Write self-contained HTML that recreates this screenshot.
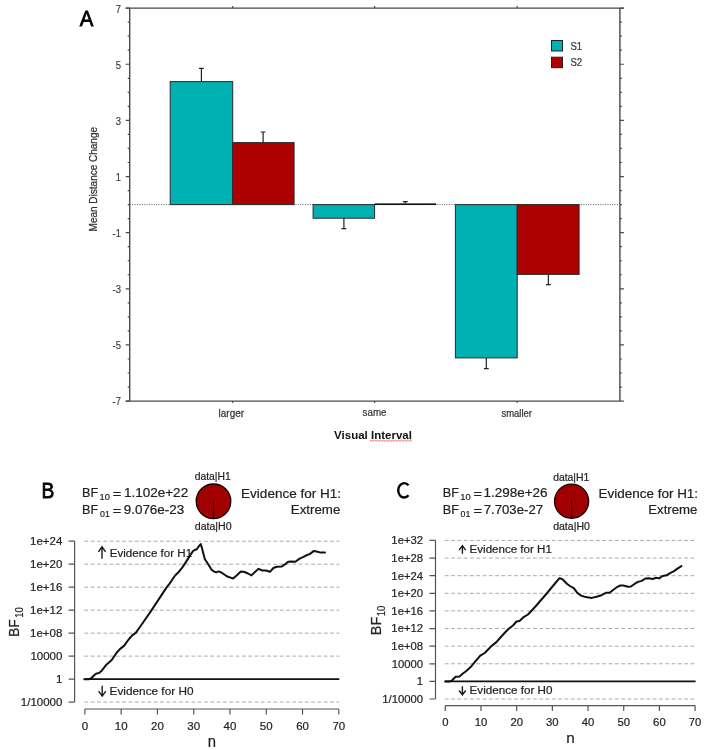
<!DOCTYPE html>
<html><head><meta charset="utf-8"><style>
html,body{margin:0;padding:0;background:#fff;}
svg{display:block;font-family:"Liberation Sans", sans-serif;will-change:transform;}
</style></head><body>
<svg width="708" height="750" viewBox="0 0 708 750">
<rect width="708" height="750" fill="#fff"/>
<text transform="translate(79.87,25.60) scale(0.888,1)" font-size="22.98" fill="#000" stroke="#000" stroke-width="0.8">A</text>
<g stroke="#4a4a4a" stroke-width="1.4" fill="none">
<path d="M125.69999999999999,8.1 H623.9 M129.7,8.1 V401.1 M619.9,8.1 V401.1 M125.69999999999999,401.1 H619.9"/>
<path stroke-width="1.2" d="M125.69999999999999,401.09 H129.7 M619.9,401.09 H623.9 M127.69999999999999,387.06 H129.7 M619.9,387.06 H621.9 M127.69999999999999,373.02 H129.7 M619.9,373.02 H621.9 M127.69999999999999,358.99 H129.7 M619.9,358.99 H621.9 M125.69999999999999,344.95 H129.7 M619.9,344.95 H623.9 M127.69999999999999,330.91 H129.7 M619.9,330.91 H621.9 M127.69999999999999,316.88 H129.7 M619.9,316.88 H621.9 M127.69999999999999,302.85 H129.7 M619.9,302.85 H621.9 M125.69999999999999,288.81 H129.7 M619.9,288.81 H623.9 M127.69999999999999,274.77 H129.7 M619.9,274.77 H621.9 M127.69999999999999,260.74 H129.7 M619.9,260.74 H621.9 M127.69999999999999,246.70 H129.7 M619.9,246.70 H621.9 M125.69999999999999,232.67 H129.7 M619.9,232.67 H623.9 M127.69999999999999,218.63 H129.7 M619.9,218.63 H621.9 M127.69999999999999,204.60 H129.7 M619.9,204.60 H621.9 M127.69999999999999,190.56 H129.7 M619.9,190.56 H621.9 M125.69999999999999,176.53 H129.7 M619.9,176.53 H623.9 M127.69999999999999,162.50 H129.7 M619.9,162.50 H621.9 M127.69999999999999,148.46 H129.7 M619.9,148.46 H621.9 M127.69999999999999,134.43 H129.7 M619.9,134.43 H621.9 M125.69999999999999,120.39 H129.7 M619.9,120.39 H623.9 M127.69999999999999,106.35 H129.7 M619.9,106.35 H621.9 M127.69999999999999,92.32 H129.7 M619.9,92.32 H621.9 M127.69999999999999,78.28 H129.7 M619.9,78.28 H621.9 M125.69999999999999,64.25 H129.7 M619.9,64.25 H623.9 M127.69999999999999,50.22 H129.7 M619.9,50.22 H621.9 M127.69999999999999,36.18 H129.7 M619.9,36.18 H621.9 M127.69999999999999,22.14 H129.7 M619.9,22.14 H621.9 M125.69999999999999,8.11 H129.7 M619.9,8.11 H623.9"/>
<path stroke-width="1.2" d="M232.7,8.1 V6.1 M232.7,401.1 V403.1 M374.6,8.1 V6.1 M374.6,401.1 V403.1 M517.2,8.1 V6.1 M517.2,401.1 V403.1"/>
</g>
<line x1="129.7" y1="204.6" x2="619.9" y2="204.6" stroke="#777" stroke-width="1" stroke-dasharray="1.2,1.2"/>
<text transform="translate(120.9,12.51) scale(0.9,1)" font-size="10.5" fill="#383838" stroke="#383838" stroke-width="0.15" text-anchor="end">7</text>
<text transform="translate(120.9,68.65) scale(0.9,1)" font-size="10.5" fill="#383838" stroke="#383838" stroke-width="0.15" text-anchor="end">5</text>
<text transform="translate(120.9,124.79) scale(0.9,1)" font-size="10.5" fill="#383838" stroke="#383838" stroke-width="0.15" text-anchor="end">3</text>
<text transform="translate(120.9,180.93) scale(0.9,1)" font-size="10.5" fill="#383838" stroke="#383838" stroke-width="0.15" text-anchor="end">1</text>
<text transform="translate(120.9,237.07) scale(0.9,1)" font-size="10.5" fill="#383838" stroke="#383838" stroke-width="0.15" text-anchor="end">-1</text>
<text transform="translate(120.9,293.21) scale(0.9,1)" font-size="10.5" fill="#383838" stroke="#383838" stroke-width="0.15" text-anchor="end">-3</text>
<text transform="translate(120.9,349.35) scale(0.9,1)" font-size="10.5" fill="#383838" stroke="#383838" stroke-width="0.15" text-anchor="end">-5</text>
<text transform="translate(120.9,405.49) scale(0.9,1)" font-size="10.5" fill="#383838" stroke="#383838" stroke-width="0.15" text-anchor="end">-7</text>
<text transform="translate(97,179.2) rotate(-90)" font-size="10" fill="#333" stroke="#333" stroke-width="0.25" text-anchor="middle">Mean Distance Change</text>
<rect x="170.20" y="81.60" width="62.50" height="123.00" fill="#00B1B4" stroke="#2a2a2a" stroke-width="1"/>
<rect x="232.70" y="142.60" width="61.40" height="62.00" fill="#AD0000" stroke="#2a2a2a" stroke-width="1"/>
<rect x="313.10" y="204.60" width="61.50" height="13.60" fill="#00B1B4" stroke="#2a2a2a" stroke-width="1"/>
<rect x="455.40" y="204.60" width="61.80" height="153.30" fill="#00B1B4" stroke="#2a2a2a" stroke-width="1"/>
<rect x="517.20" y="204.60" width="61.90" height="69.80" fill="#AD0000" stroke="#2a2a2a" stroke-width="1"/>
<rect x="374.6" y="203.4" width="61.6" height="1.6" fill="#111"/>
<path d="M201.4,81.6 V68.4 M199.0,68.4 H203.8" stroke="#222" stroke-width="1.2" fill="none"/>
<path d="M263.1,142.6 V132 M260.70000000000005,132 H265.5" stroke="#222" stroke-width="1.2" fill="none"/>
<path d="M343.9,218.2 V228.6 M341.5,228.6 H346.29999999999995" stroke="#222" stroke-width="1.2" fill="none"/>
<path d="M405.3,203.4 V201.6 M402.90000000000003,201.6 H407.7" stroke="#222" stroke-width="1.2" fill="none"/>
<path d="M486.3,357.9 V368.7 M483.90000000000003,368.7 H488.7" stroke="#222" stroke-width="1.2" fill="none"/>
<path d="M548.4,274.4 V284.7 M546.0,284.7 H550.8" stroke="#222" stroke-width="1.2" fill="none"/>
<text transform="translate(218.62,417.04) scale(0.995,1)" font-size="9.99" fill="#383838" stroke="#383838" stroke-width="0.25">larger</text>
<text transform="translate(362.59,416.26) scale(0.869,1)" font-size="11.27" fill="#383838" stroke="#383838" stroke-width="0.25">same</text>
<text transform="translate(501.40,416.60) scale(0.932,1)" font-size="10.21" fill="#383838" stroke="#383838" stroke-width="0.25">smaller</text>
<text x="373" y="439" font-size="11.5" font-weight="bold" fill="#111" text-anchor="middle">Visual Interval</text>
<path d="M370,440.8 L371.5,440.2 L373.0,441.4 L374.5,440.2 L376.0,441.4 L377.5,440.2 L379.0,441.4 L380.5,440.2 L382.0,441.4 L383.5,440.2 L385.0,441.4 L386.5,440.2 L388.0,441.4 L389.5,440.2 L391.0,441.4 L392.5,440.2 L394.0,441.4 L395.5,440.2 L397.0,441.4 L398.5,440.2 L400.0,441.4 L401.5,440.2 L403.0,441.4 L404.5,440.2 L406.0,441.4 L407.5,440.2 L409.0,441.4 L410.5,440.2 L412.0,441.4" stroke="#e03030" stroke-width="0.7" fill="none"/>
<rect x="551.5" y="40.5" width="11" height="10.5" fill="#00B1B4" stroke="#222" stroke-width="1"/>
<rect x="551.5" y="57.2" width="11" height="10.5" fill="#AD0000" stroke="#222" stroke-width="1"/>
<text transform="translate(570.5,49.7) scale(0.9,1)" font-size="10.6" fill="#383838" stroke="#383838" stroke-width="0.25">S1</text>
<text transform="translate(570.5,66.1) scale(0.9,1)" font-size="10.6" fill="#383838" stroke="#383838" stroke-width="0.25">S2</text>
<text transform="translate(41.44,498.10) scale(0.841,1)" font-size="22.84" fill="#000" stroke="#000" stroke-width="0.8">B</text>
<text transform="translate(82.07,497.00) scale(0.993,1)" font-size="12.80" fill="#222" stroke="#222" stroke-width="0.2">BF</text>
<text transform="translate(99.59,499.58) scale(1.000,1)" font-size="9.40" fill="#222" stroke="#222" stroke-width="0.2">10</text>
<text transform="translate(112.87,497.65) scale(1.214,1)" font-size="12.00" fill="#222" stroke="#222" stroke-width="0.2">=</text>
<text transform="translate(123.88,496.85) scale(1.096,1)" font-size="12.35" fill="#222" stroke="#222" stroke-width="0.2">1.102e+22</text>
<text transform="translate(82.07,514.40) scale(0.993,1)" font-size="12.80" fill="#222" stroke="#222" stroke-width="0.2">BF</text>
<text transform="translate(99.97,517.08) scale(0.930,1)" font-size="9.54" fill="#222" stroke="#222" stroke-width="0.2">01</text>
<text transform="translate(112.87,515.05) scale(1.214,1)" font-size="12.00" fill="#222" stroke="#222" stroke-width="0.2">=</text>
<text transform="translate(123.73,514.25) scale(1.088,1)" font-size="12.35" fill="#222" stroke="#222" stroke-width="0.2">9.076e-23</text>
<circle cx="213.5" cy="501.3" r="17.3" fill="#a00000" stroke="#1a0000" stroke-width="1.3"/>
<path d="M213.2,499.8 L212.6,518.6 L214.4,518.6 L213.8,499.8 Z" fill="#1a0000"/>
<text transform="translate(194.65,479.96) scale(0.942,1)" font-size="10.98" fill="#222" stroke="#222" stroke-width="0.2">data|H1</text>
<text transform="translate(194.74,530.16) scale(0.977,1)" font-size="10.85" fill="#222" stroke="#222" stroke-width="0.2">data|H0</text>
<text transform="translate(241.10,498.14) scale(1.072,1)" font-size="12.61" fill="#222" stroke="#222" stroke-width="0.2">Evidence for H1:</text>
<text transform="translate(290.82,514.13) scale(1.001,1)" font-size="13.29" fill="#222" stroke="#222" stroke-width="0.2">Extreme</text>
<path d="M84.40,541.22 H339.30 M84.40,564.20 H339.30 M84.40,587.18 H339.30 M84.40,610.16 H339.30 M84.40,633.14 H339.30 M84.40,656.12 H339.30 M84.40,702.08 H339.30" stroke="#aaa" stroke-width="1" stroke-dasharray="3.8,2.5" fill="none"/>
<path d="M74.6,541.22 V702.08" stroke="#555" stroke-width="1.2" fill="none"/>
<path d="M68.6,702.08 H74.6 M68.6,679.10 H74.6 M68.6,656.12 H74.6 M68.6,633.14 H74.6 M68.6,610.16 H74.6 M68.6,587.18 H74.6 M68.6,564.20 H74.6 M68.6,541.22 H74.6" stroke="#555" stroke-width="1.2" fill="none"/>
<text x="62.4" y="705.62" font-size="11.5" fill="#222" stroke="#222" stroke-width="0.2" text-anchor="end">1/10000</text>
<text x="62.4" y="682.64" font-size="11.5" fill="#222" stroke="#222" stroke-width="0.2" text-anchor="end">1</text>
<text x="62.4" y="659.66" font-size="11.5" fill="#222" stroke="#222" stroke-width="0.2" text-anchor="end">10000</text>
<text x="62.4" y="636.68" font-size="11.5" fill="#222" stroke="#222" stroke-width="0.2" text-anchor="end">1e+08</text>
<text x="62.4" y="613.70" font-size="11.5" fill="#222" stroke="#222" stroke-width="0.2" text-anchor="end">1e+12</text>
<text x="62.4" y="590.72" font-size="11.5" fill="#222" stroke="#222" stroke-width="0.2" text-anchor="end">1e+16</text>
<text x="62.4" y="567.74" font-size="11.5" fill="#222" stroke="#222" stroke-width="0.2" text-anchor="end">1e+20</text>
<text x="62.4" y="544.76" font-size="11.5" fill="#222" stroke="#222" stroke-width="0.2" text-anchor="end">1e+24</text>
<path d="M84.90,709 H338.80" stroke="#555" stroke-width="1.2" fill="none"/>
<path d="M84.90,709 V714.5 M121.17,709 V714.5 M157.44,709 V714.5 M193.71,709 V714.5 M229.99,709 V714.5 M266.26,709 V714.5 M302.53,709 V714.5 M338.80,709 V714.5" stroke="#555" stroke-width="1.2" fill="none"/>
<text x="84.90" y="729.7" font-size="11.5" fill="#222" stroke="#222" stroke-width="0.2" text-anchor="middle">0</text>
<text x="121.17" y="729.7" font-size="11.5" fill="#222" stroke="#222" stroke-width="0.2" text-anchor="middle">10</text>
<text x="157.44" y="729.7" font-size="11.5" fill="#222" stroke="#222" stroke-width="0.2" text-anchor="middle">20</text>
<text x="193.71" y="729.7" font-size="11.5" fill="#222" stroke="#222" stroke-width="0.2" text-anchor="middle">30</text>
<text x="229.99" y="729.7" font-size="11.5" fill="#222" stroke="#222" stroke-width="0.2" text-anchor="middle">40</text>
<text x="266.26" y="729.7" font-size="11.5" fill="#222" stroke="#222" stroke-width="0.2" text-anchor="middle">50</text>
<text x="302.53" y="729.7" font-size="11.5" fill="#222" stroke="#222" stroke-width="0.2" text-anchor="middle">60</text>
<text x="338.80" y="729.7" font-size="11.5" fill="#222" stroke="#222" stroke-width="0.2" text-anchor="middle">70</text>
<text transform="translate(207.68,747.00) scale(0.949,1)" font-size="15.63" fill="#222" stroke="#222" stroke-width="0.2">n</text>
<text transform="rotate(-90) translate(-637.03,19.00) scale(0.920,1)" font-size="15.13" fill="#222" stroke="#222" stroke-width="0.2">BF</text>
<text transform="rotate(-90) translate(-617.82,22.77) scale(0.900,1)" font-size="10.67" fill="#222" stroke="#222" stroke-width="0.2">10</text>
<line x1="84.40" y1="679.10" x2="339.30" y2="679.10" stroke="#111" stroke-width="1.8"/>
<text transform="translate(109.66,556.65) scale(0.995,1)" font-size="11.66" fill="#222" stroke="#222" stroke-width="0.2">Evidence for H1</text>
<text transform="translate(109.54,694.56) scale(1.037,1)" font-size="11.39" fill="#222" stroke="#222" stroke-width="0.2">Evidence for H0</text>
<path d="M102.0,547.2 V558.8 M98.4,551.8000000000001 L102.0,546.8000000000001 L105.6,551.8000000000001" stroke="#1a1a1a" stroke-width="1.4" fill="none" stroke-linejoin="miter"/>
<path d="M102.2,685.7 V695.7 M98.60000000000001,691.1 L102.2,696.1 L105.8,691.1" stroke="#1a1a1a" stroke-width="1.4" fill="none" stroke-linejoin="miter"/>
<polyline points="84.3,679.2 88.7,679.2 91.3,678.3 93.9,675.5 96.0,673.8 99.1,672.9 101.7,670.7 106.0,665.1 109.5,662.1 112.1,659.5 116.4,653.0 119.9,649.1 124.2,645.6 128.6,639.5 132.0,635.6 135.9,632.6 140.3,626.5 151.3,610.6 166.6,587.4 169.6,583.6 175.3,575.3 178.2,572.6 182.2,567.6 186.2,561.6 190.4,554.9 193.0,551.1 194.7,550.0 196.8,549.2 198.5,546.7 200.7,544.1 201.9,547.7 203.6,554.5 204.8,559.0 208.2,564.3 211.6,569.8 214.2,571.6 216.3,572.3 218.4,571.4 220.9,572.3 222.5,573.2 226.8,576.3 233.1,578.6 236.9,575.2 240.8,571.5 244.6,572.0 248.0,573.5 251.4,575.4 254.7,572.2 258.6,568.8 262.4,570.5 265.8,570.5 270.0,571.8 273.4,568.0 276.8,566.7 281.8,566.5 285.2,564.2 288.1,561.7 291.9,561.4 295.3,561.7 299.6,558.6 303.0,557.2 306.4,555.3 309.7,554.1 313.6,551.1 316.5,551.5 320.8,552.6 325.0,552.5" fill="none" stroke="#111" stroke-width="2" stroke-linejoin="round" stroke-linecap="round"/>
<path d="M408.52,485.35 A6.0,7.2 0 1 0 408.52,495.35" stroke="#000" stroke-width="2.4" fill="none"/>
<text transform="translate(442.67,497.00) scale(0.993,1)" font-size="12.80" fill="#222" stroke="#222" stroke-width="0.2">BF</text>
<text transform="translate(460.20,499.58) scale(1.000,1)" font-size="9.40" fill="#222" stroke="#222" stroke-width="0.2">10</text>
<text transform="translate(473.47,497.65) scale(1.214,1)" font-size="12.00" fill="#222" stroke="#222" stroke-width="0.2">=</text>
<text transform="translate(483.39,497.04) scale(1.070,1)" font-size="12.63" fill="#222" stroke="#222" stroke-width="0.2">1.298e+26</text>
<text transform="translate(442.67,514.40) scale(0.993,1)" font-size="12.80" fill="#222" stroke="#222" stroke-width="0.2">BF</text>
<text transform="translate(460.57,517.08) scale(0.930,1)" font-size="9.54" fill="#222" stroke="#222" stroke-width="0.2">01</text>
<text transform="translate(473.47,515.05) scale(1.214,1)" font-size="12.00" fill="#222" stroke="#222" stroke-width="0.2">=</text>
<text transform="translate(483.74,513.85) scale(1.092,1)" font-size="12.07" fill="#222" stroke="#222" stroke-width="0.2">7.703e-27</text>
<circle cx="571.6" cy="501.2" r="17.1" fill="#a00000" stroke="#1a0000" stroke-width="1.3"/>
<path d="M571.3000000000001,499.7 L570.7,518.3 L572.5,518.3 L571.9,499.7 Z" fill="#1a0000"/>
<text transform="translate(553.15,480.87) scale(0.981,1)" font-size="10.58" fill="#222" stroke="#222" stroke-width="0.2">data|H1</text>
<text transform="translate(553.14,530.16) scale(0.972,1)" font-size="10.85" fill="#222" stroke="#222" stroke-width="0.2">data|H0</text>
<text transform="translate(598.50,498.14) scale(1.069,1)" font-size="12.61" fill="#222" stroke="#222" stroke-width="0.2">Evidence for H1:</text>
<text transform="translate(648.23,514.13) scale(0.995,1)" font-size="13.29" fill="#222" stroke="#222" stroke-width="0.2">Extreme</text>
<path d="M444.80,540.44 H695.60 M444.80,558.06 H695.60 M444.80,575.68 H695.60 M444.80,593.30 H695.60 M444.80,610.92 H695.60 M444.80,628.54 H695.60 M444.80,646.16 H695.60 M444.80,663.78 H695.60 M444.80,699.02 H695.60" stroke="#aaa" stroke-width="1" stroke-dasharray="3.8,2.5" fill="none"/>
<path d="M435.5,540.44 V699.02" stroke="#555" stroke-width="1.2" fill="none"/>
<path d="M429.5,699.02 H435.5 M429.5,681.40 H435.5 M429.5,663.78 H435.5 M429.5,646.16 H435.5 M429.5,628.54 H435.5 M429.5,610.92 H435.5 M429.5,593.30 H435.5 M429.5,575.68 H435.5 M429.5,558.06 H435.5 M429.5,540.44 H435.5" stroke="#555" stroke-width="1.2" fill="none"/>
<text x="423.1" y="702.89" font-size="11.3" fill="#222" stroke="#222" stroke-width="0.2" text-anchor="end">1/10000</text>
<text x="423.1" y="685.27" font-size="11.3" fill="#222" stroke="#222" stroke-width="0.2" text-anchor="end">1</text>
<text x="423.1" y="667.65" font-size="11.3" fill="#222" stroke="#222" stroke-width="0.2" text-anchor="end">10000</text>
<text x="423.1" y="650.03" font-size="11.3" fill="#222" stroke="#222" stroke-width="0.2" text-anchor="end">1e+08</text>
<text x="423.1" y="632.41" font-size="11.3" fill="#222" stroke="#222" stroke-width="0.2" text-anchor="end">1e+12</text>
<text x="423.1" y="614.79" font-size="11.3" fill="#222" stroke="#222" stroke-width="0.2" text-anchor="end">1e+16</text>
<text x="423.1" y="597.17" font-size="11.3" fill="#222" stroke="#222" stroke-width="0.2" text-anchor="end">1e+20</text>
<text x="423.1" y="579.55" font-size="11.3" fill="#222" stroke="#222" stroke-width="0.2" text-anchor="end">1e+24</text>
<text x="423.1" y="561.93" font-size="11.3" fill="#222" stroke="#222" stroke-width="0.2" text-anchor="end">1e+28</text>
<text x="423.1" y="544.31" font-size="11.3" fill="#222" stroke="#222" stroke-width="0.2" text-anchor="end">1e+32</text>
<path d="M445.30,705.6 H695.10" stroke="#555" stroke-width="1.2" fill="none"/>
<path d="M445.30,705.6 V711.1 M480.99,705.6 V711.1 M516.67,705.6 V711.1 M552.36,705.6 V711.1 M588.04,705.6 V711.1 M623.73,705.6 V711.1 M659.41,705.6 V711.1 M695.10,705.6 V711.1" stroke="#555" stroke-width="1.2" fill="none"/>
<text x="445.30" y="726.2" font-size="11.3" fill="#222" stroke="#222" stroke-width="0.2" text-anchor="middle">0</text>
<text x="480.99" y="726.2" font-size="11.3" fill="#222" stroke="#222" stroke-width="0.2" text-anchor="middle">10</text>
<text x="516.67" y="726.2" font-size="11.3" fill="#222" stroke="#222" stroke-width="0.2" text-anchor="middle">20</text>
<text x="552.36" y="726.2" font-size="11.3" fill="#222" stroke="#222" stroke-width="0.2" text-anchor="middle">30</text>
<text x="588.04" y="726.2" font-size="11.3" fill="#222" stroke="#222" stroke-width="0.2" text-anchor="middle">40</text>
<text x="623.73" y="726.2" font-size="11.3" fill="#222" stroke="#222" stroke-width="0.2" text-anchor="middle">50</text>
<text x="659.41" y="726.2" font-size="11.3" fill="#222" stroke="#222" stroke-width="0.2" text-anchor="middle">60</text>
<text x="695.10" y="726.2" font-size="11.3" fill="#222" stroke="#222" stroke-width="0.2" text-anchor="middle">70</text>
<text transform="translate(566.25,742.70) scale(0.990,1)" font-size="15.44" fill="#222" stroke="#222" stroke-width="0.2">n</text>
<text transform="rotate(-90) translate(-635.17,381.10) scale(0.955,1)" font-size="15.13" fill="#222" stroke="#222" stroke-width="0.2">BF</text>
<text transform="rotate(-90) translate(-616.21,384.77) scale(0.891,1)" font-size="10.67" fill="#222" stroke="#222" stroke-width="0.2">10</text>
<line x1="444.80" y1="681.40" x2="695.60" y2="681.40" stroke="#111" stroke-width="1.8"/>
<text transform="translate(469.56,552.77) scale(1.109,1)" font-size="10.44" fill="#222" stroke="#222" stroke-width="0.2">Evidence for H1</text>
<text transform="translate(469.55,694.17) scale(1.102,1)" font-size="10.58" fill="#222" stroke="#222" stroke-width="0.2">Evidence for H0</text>
<path d="M462.4,546.1 V553.8 M459.09999999999997,550.1 L462.4,545.7 L465.7,550.1" stroke="#1a1a1a" stroke-width="1.4" fill="none" stroke-linejoin="miter"/>
<path d="M462.4,686.2 V694.5 M459.09999999999997,690.5 L462.4,694.9 L465.7,690.5" stroke="#1a1a1a" stroke-width="1.4" fill="none" stroke-linejoin="miter"/>
<polyline points="445.2,681.6 449.5,681.6 452.1,680.3 455.6,676.8 459.5,676.4 462.5,673.8 466.0,671.2 470.4,667.3 475.6,661.2 480.3,655.6 484.7,653.0 488.1,649.5 492.0,645.6 496.4,642.1 500.0,638.0 505.0,632.5 509.0,628.5 513.0,625.5 516.5,621.5 519.5,621.0 524.0,616.8 528.0,614.5 535.0,607.0 545.0,595.5 555.0,583.5 559.5,578.2 562.0,579.0 563.0,579.8 566.9,583.8 569.9,586.0 573.8,588.2 577.3,592.9 580.8,595.5 585.7,597.1 591.7,597.9 596.6,596.7 601.5,595.2 606.5,592.7 609.5,592.7 613.4,589.7 617.4,586.8 620.3,585.5 623.3,585.5 628.0,586.8 630.9,586.5 634.9,583.7 637.9,581.9 641.8,580.9 645.3,578.5 648.7,578.2 652.7,579.0 656.2,577.7 659.1,578.4 662.6,576.0 666.5,575.3 670.5,572.8 674.0,571.1 677.4,568.6 681.4,566.1" fill="none" stroke="#111" stroke-width="2" stroke-linejoin="round" stroke-linecap="round"/>
</svg>
</body></html>
